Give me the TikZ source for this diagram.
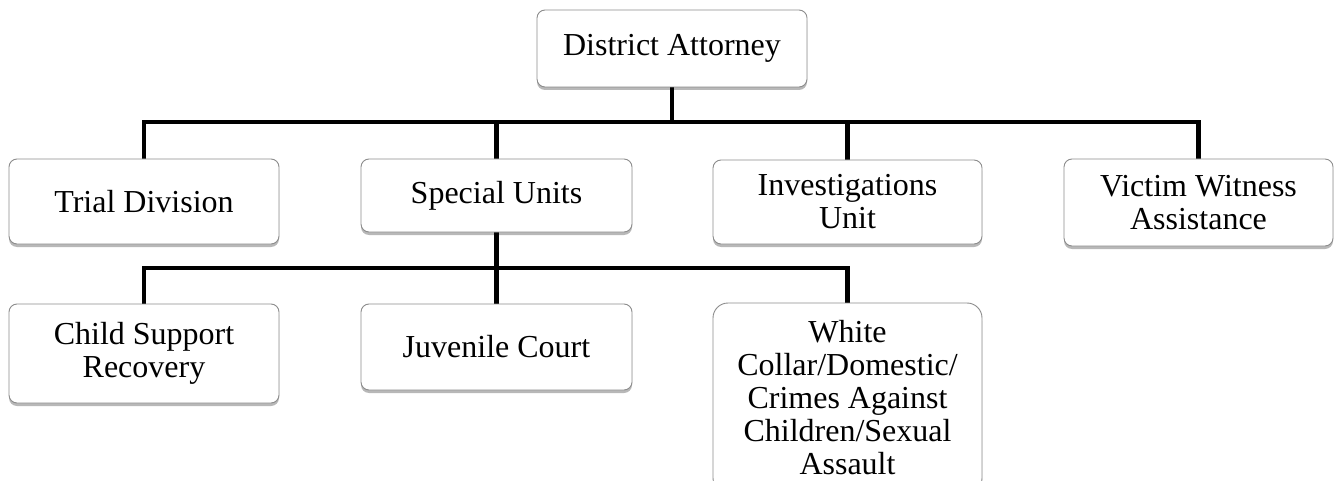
\documentclass[tikz,border=0pt]{standalone}
\usepackage{fontspec}
\setmainfont{Liberation Serif}
\usetikzlibrary{shadows}
\begin{document}
\begin{tikzpicture}[x=1pt,y=-1pt,
  unitbox/.style={draw=black!45, line width=0.9pt, fill=white,
    rounded corners=8pt, inner sep=0pt, align=center,
    font=\fontsize{32}{33}\selectfont,
    drop shadow={shadow xshift=0pt, shadow yshift=-3pt, opacity=0.28, fill=black}},
  conn/.style={line width=4.2pt, black, line join=miter}]
\clip (0,0) rectangle (1335,481);
\fill[white] (0,0) rectangle (1335,481);

% junction points of the two bus lines
\coordinate (bus1) at (672,122);
\coordinate (bus2) at (496.5,268);

% box centres, used by the connectors
\path (672,48.5) coordinate (pda);
\path (144,201.5) coordinate (ptd);
\path (496.5,195.5) coordinate (psu);
\path (847.5,202) coordinate (piu);
\path (1198.5,202.5) coordinate (pvw);
\path (144,353.5) coordinate (pcs);
\path (496.5,347) coordinate (pjc);
\path (847.5,398) coordinate (pwc);

% connectors (drawn beneath the boxes)
\draw[conn] (pda) -- (bus1);
\draw[conn] (ptd) -- (ptd |- bus1) -- (pvw |- bus1) -- (pvw);
\draw[conn] (psu) -- (psu |- bus1);
\draw[conn] (piu) -- (piu |- bus1);
\draw[conn] (psu) -- (bus2);
\draw[conn] (pcs) -- (pcs |- bus2) -- (pwc |- bus2) -- (pwc);
\draw[conn] (pjc) -- (pjc |- bus2);

% boxes
\node[unitbox, minimum width=270pt, minimum height=77pt] (da) at (pda) {District Attorney};
\node[unitbox, minimum width=270pt, minimum height=85pt] (td) at (ptd) {Trial Division};
\node[unitbox, minimum width=271pt, minimum height=73pt] (su) at (psu) {Special Units};
\node[unitbox, minimum width=269pt, minimum height=84pt] (iu) at (piu) {Investigations\\Unit};
\node[unitbox, minimum width=269pt, minimum height=87pt] (vw) at (pvw) {Victim Witness\\Assistance};
\node[unitbox, minimum width=270pt, minimum height=99pt] (cs) at (pcs) {Child Support\\Recovery};
\node[unitbox, minimum width=271pt, minimum height=86pt] (jc) at (pjc) {Juvenile Court};
\node[unitbox, rounded corners=15pt, minimum width=269pt, minimum height=190pt] (wc) at (pwc)
  {White\\Collar/Domestic/\\Crimes Against\\Children/Sexual\\Assault};
\end{tikzpicture}
\end{document}
